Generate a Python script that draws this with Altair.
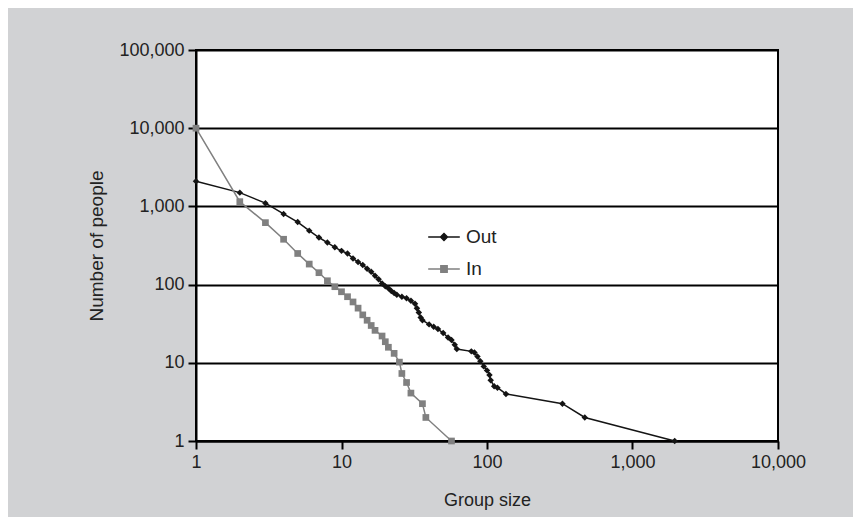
import altair as alt
import pandas as pd

# ---- data ----
out_x = [1, 2, 3, 4, 5, 6, 7, 8, 9, 10, 11, 12, 13, 14, 15, 16, 17, 18, 19, 20,
         21, 22, 23, 24, 26, 28, 30, 32, 33, 34, 35, 36, 40, 43, 46, 50, 54, 57,
         60, 62, 78, 82, 86, 90, 95, 100, 104, 106, 112, 118, 135, 330, 470, 1950]
out_y = [2100, 1500, 1100, 800, 630, 490, 400, 345, 300, 270, 250, 215, 195, 178,
         160, 146, 130, 117, 103, 95, 90, 83, 78, 74, 70, 67, 62, 57, 50, 44, 38,
         35, 31, 29, 27, 24, 21, 19.6, 17, 15, 14, 13.5, 12, 10.5, 9, 8, 7, 6, 5,
         4.8, 4, 3, 2, 1]

in_x = [1, 2, 3, 4, 5, 6, 7, 8, 9, 10, 11, 12, 13, 14, 15, 16, 17, 19, 20, 21,
        23, 25, 26, 28, 30, 36, 38, 57]
in_y = [10000, 1150, 620, 380, 250, 183, 142, 112, 94, 81, 70, 60, 50, 41, 35,
        30, 26, 22, 18.6, 15.8, 13.2, 10.2, 7.3, 5.6, 4.1, 3, 2, 1]

series_names = ["Out", "In"]
x_ticks = [1, 10, 100, 1000, 10000]
y_ticks = [1, 10, 100, 1000, 10000, 100000]

df = pd.concat([
    pd.DataFrame({"series": "Out", "size": out_x, "people": out_y}),
    pd.DataFrame({"series": "In", "size": in_x, "people": in_y}),
], ignore_index=True)

FONT = "Liberation Sans, Arial, sans-serif"

P_OUT = "M-1,0H1M0,-0.22L0.22,0L0,0.22L-0.22,0Z"
P_IN = "M-1,0H1M-0.2,-0.2H0.2V0.2H-0.2Z"

color_scale = alt.Scale(domain=series_names, range=["#141414", "#808080"])

legend = alt.Legend(
    title=None, orient="none", legendX=231, legendY=170,
    labelFont=FONT, labelFontSize=19, labelColor="#222222",
    labelOffset=5, rowPadding=5, padding=0,
    symbolType={"expr": "datum.value === 'Out' ? '" + P_OUT + "' : '" + P_IN + "'"},
    symbolSize=1000, symbolStrokeWidth=1.5, symbolOpacity=1,
)

base = alt.Chart(df).encode(
    x=alt.X("size:Q",
            scale=alt.Scale(type="log", domain=[1, 10000]),
            axis=alt.Axis(values=x_ticks, format=",", title="Group size",
                          grid=False, labelFont=FONT, labelFontSize=18,
                          labelColor="#222222", labelPadding=4,
                          titleFont=FONT, titleFontSize=18,
                          titleFontWeight="normal", titleColor="#222222",
                          titlePadding=20, tickSize=8, tickWidth=2,
                          tickColor="#000000", domainColor="#000000",
                          domainWidth=2, labelFlush=False)),
    y=alt.Y("people:Q",
            scale=alt.Scale(type="log", domain=[1, 100000]),
            axis=alt.Axis(values=y_ticks, format=",", title="Number of people",
                          grid=True, gridColor="#000000", gridWidth=2,
                          labelFont=FONT, labelFontSize=18,
                          labelColor="#222222", labelPadding=4,
                          titleFont=FONT, titleFontSize=19,
                          titleFontWeight="normal", titleColor="#222222",
                          titlePadding=12, tickSize=8, tickWidth=2,
                          tickColor="#000000", domainColor="#000000",
                          domainWidth=2, labelFlush=False)),
    color=alt.Color("series:N", scale=color_scale, legend=legend),
    order=alt.Order("size:Q"),
)

lines = base.mark_line(strokeWidth=1.5)
points_out = base.transform_filter(alt.datum.series == "Out").mark_point(
    filled=True, opacity=1, shape="diamond", size=42)
points_in = base.transform_filter(alt.datum.series == "In").mark_point(
    filled=True, opacity=1, shape="square", size=45)

chart = alt.layer(lines, points_out, points_in).properties(
    width=582, height=391,
    background="#d1d2d4",
    padding={"left": 188, "top": 42, "right": 75, "bottom": 76},
    autosize=alt.AutoSizeParams(type="none"),
).configure_view(
    fill="#ffffff", stroke="#000000", strokeWidth=2
)

chart.save("out.html", embed_options={"renderer": "svg", "actions": False})
